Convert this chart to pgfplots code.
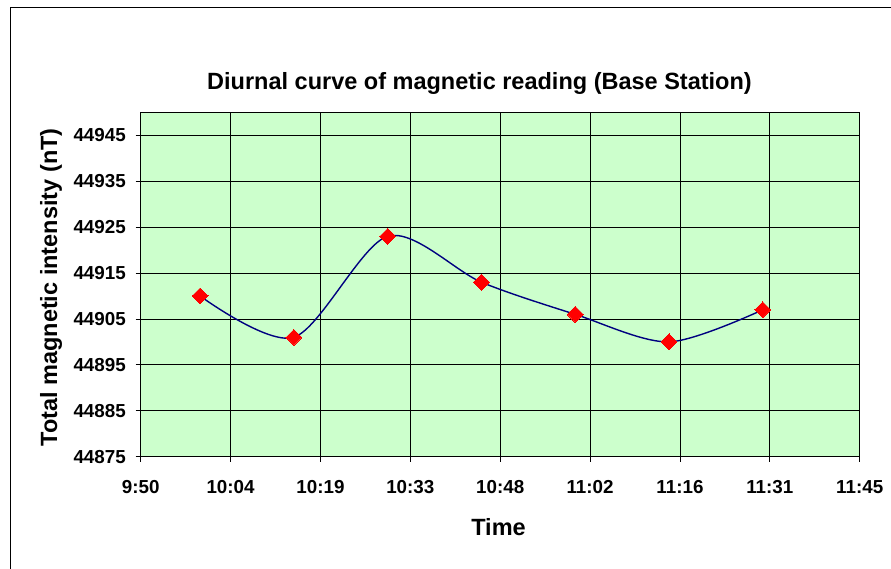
\documentclass[border=0pt]{standalone}
\usepackage{pgfplots}
\pgfplotsset{compat=1.18}
\usepackage{fontspec}
\setmainfont{Liberation Sans}
\definecolor{bgreen}{HTML}{CCFFCC}
\definecolor{navyline}{HTML}{000080}
\begin{document}
\begin{tikzpicture}[x=1pt,y=1pt]
\useasboundingbox (0,0) rectangle (891,569);
\draw[line width=1pt] (10.5,0) -- (10.5,561) -- (891,561);
\begin{axis}[
  at={(140.7pt,112.3pt)}, anchor=south west,
  width=719pt, height=344.4pt, scale only axis,
  xmin=0, xmax=115, ymin=44875, ymax=44950,
  xtick={0,14.375,28.75,43.125,57.5,71.875,86.25,100.625,115},
  xticklabels={9:50,10:04,10:19,10:33,10:48,11:02,11:16,11:31,11:45},
  ytick={44875,44885,44895,44905,44915,44925,44935,44945},
  xtick pos=bottom, ytick pos=left,
  scaled y ticks=false,
  /pgf/number format/1000 sep={},
  /pgf/number format/assume math mode=true,
  grid=major, major grid style={black, line width=0.8pt},
  axis line style={black, line width=0.8pt},
  tick align=outside, major tick length=5pt,
  tick style={black, line width=0.8pt},
  axis background/.style={fill=bgreen},
  ticklabel style={font=\fontsize{18.8}{20}\selectfont\bfseries},
  xticklabel style={anchor=base, yshift=-31.6pt},
  yticklabel style={anchor=east, inner sep=0pt, xshift=-9.7pt},
]
\addplot[navyline, line width=1.4pt, smooth, mark=square*, mark size=5.6pt,
  mark options={rotate=45, fill=red, draw=red, line width=0pt}]
  coordinates {(9.5,44910) (24.5,44901) (39.5,44923) (54.5,44913) (69.5,44906) (84.5,44900) (99.5,44907)};
\end{axis}
\node[anchor=base, font=\fontsize{23.5}{28}\selectfont\bfseries] at (479.5,479) {Diurnal curve of magnetic reading (Base Station)};
\node[anchor=base, font=\fontsize{23.5}{28}\selectfont\bfseries] at (498.5,33) {Time};
\node[anchor=base, rotate=90, font=\fontsize{23.5}{28}\selectfont\bfseries] at (57,281.5) {Total magnetic intensity (nT)};
\end{tikzpicture}
\end{document}
